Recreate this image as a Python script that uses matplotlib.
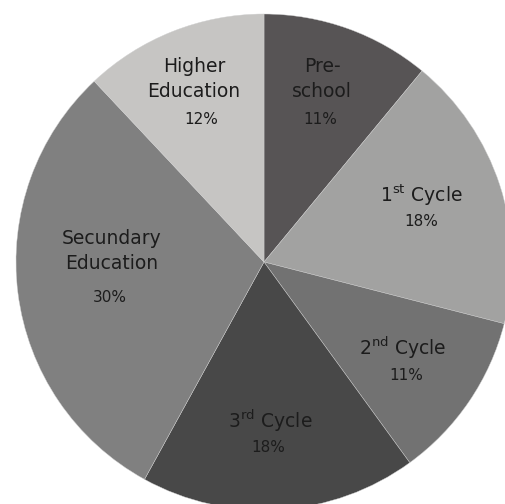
import matplotlib
matplotlib.use("Agg")
import matplotlib.pyplot as plt

# Share of students by level of education
labels = ["Pre-\nschool", "1$^{\\rm st}$ Cycle", "2$^{\\rm nd}$ Cycle",
          "3$^{\\rm rd}$ Cycle", "Secundary\nEducation", "Higher\nEducation"]
values = [11, 18, 11, 18, 30, 12]
colors = ["#575455", "#a2a2a1", "#727272", "#484848", "#808080", "#c6c5c3"]

# label anchor points (pixels from the top-left corner): name, percentage
name_pos = [(322, 79), (421, 195), (403, 348), (270, 421), (112, 251), (194, 79)]
pct_pos = [(320, 120), (421, 222), (406, 375), (268, 448), (110, 297), (201, 120)]

W, H = 506, 504
plt.rcParams["font.family"] = ["DejaVu Sans"]
plt.rcParams["mathtext.fontset"] = "dejavusans"

fig = plt.figure(figsize=(W / 100, H / 100), dpi=100)
ax = fig.add_axes([0, 0, 1, 1])

cx, cy, r = 264, 262, 248
# y grows downwards here, so start at 270 and sweep "counterclockwise"
# in data space, which reads clockwise from the top on screen
ax.pie(values, colors=colors, startangle=270, counterclock=True,
       center=(cx, cy), radius=r, frame=True,
       wedgeprops=dict(linewidth=0.3, edgecolor="#d0d0d0"))
ax.set_xlim(0, W)
ax.set_ylim(H, 0)
ax.set_aspect("equal")
ax.axis("off")

for lab, v, (nx, ny), (px, py) in zip(labels, values, name_pos, pct_pos):
    ax.text(nx, ny, lab, ha="center", va="center", fontsize=13.5,
            color="#1c1c1c", linespacing=1.42)
    ax.text(px, py, f"{v}%", ha="center", va="center", fontsize=11,
            color="#1c1c1c")

fig.savefig("out.png", dpi=100)
